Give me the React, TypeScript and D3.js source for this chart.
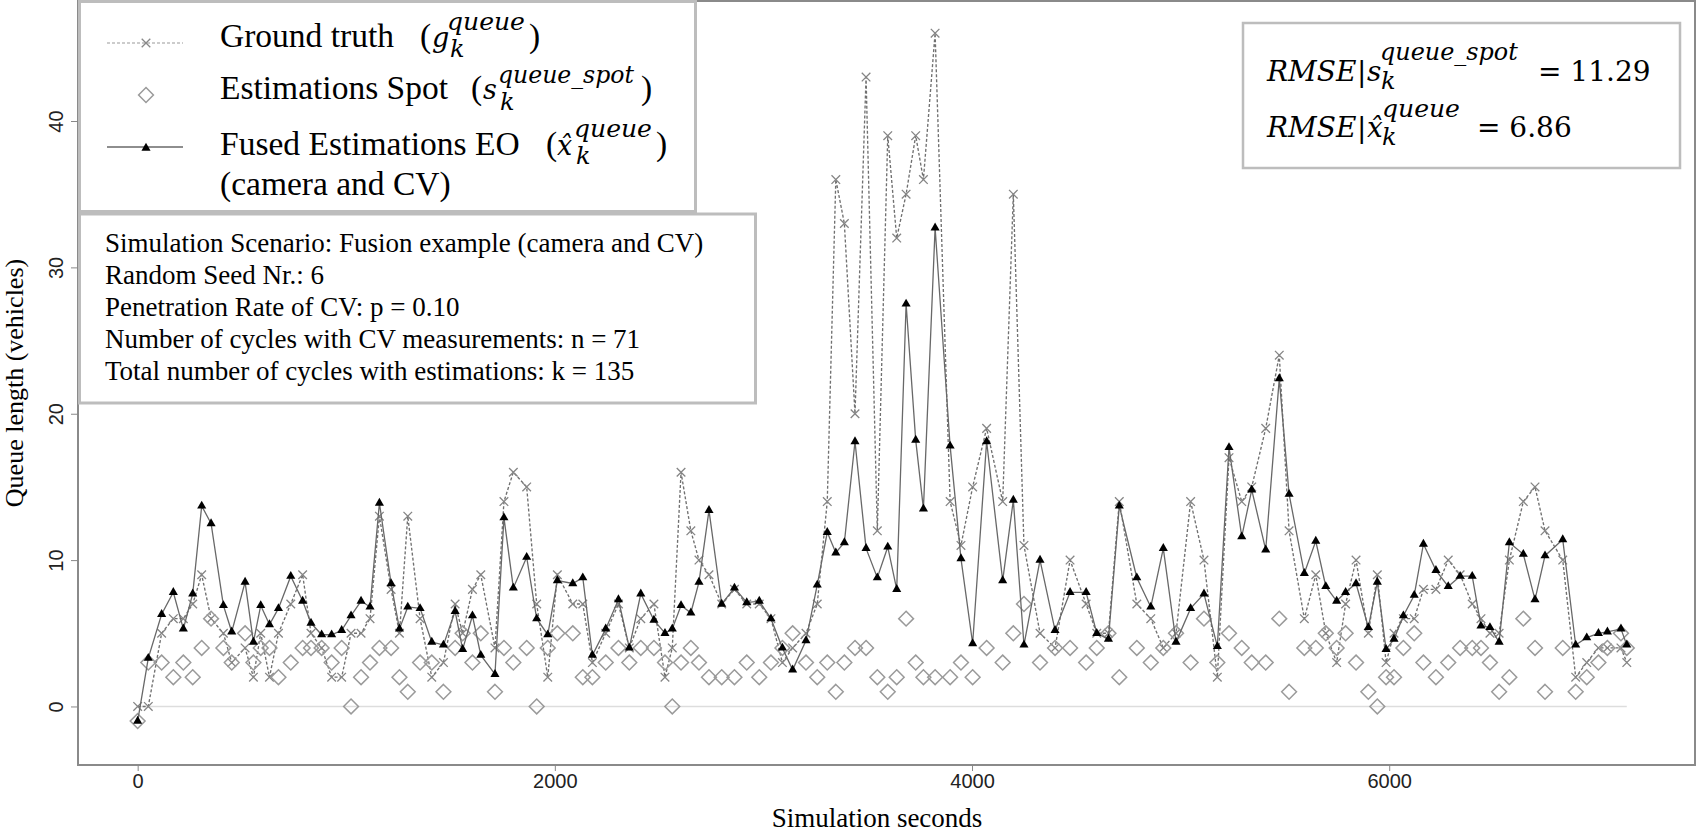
import React, { useEffect, useRef } from 'react';
import * as d3 from 'd3';

// end time of each signal cycle (simulation seconds), k = 135
const cycleTimes = [
  0, 51, 115, 171, 219, 264, 307, 352, 411, 451, 515, 555, 590, 632, 675, 734, 791, 831, 882,
  930, 978, 1023, 1071, 1114, 1159, 1215, 1255, 1295, 1354, 1410, 1466, 1522, 1558, 1605, 1645, 1713, 1756, 1801,
  1865, 1913, 1966, 2012, 2086, 2134, 2180, 2244, 2305, 2357, 2412, 2475, 2528, 2563, 2605, 2652, 2691,
  2739, 2800, 2861, 2920, 2980, 3036, 3091, 3140, 3204, 3258, 3306, 3347, 3388, 3439, 3492, 3546, 3596, 3639,
  3684, 3730, 3767, 3823, 3895, 3947, 4003, 4070, 4147, 4198, 4249, 4326,
  4398, 4470, 4547, 4598, 4654, 4706, 4790, 4857, 4917, 4978, 5048, 5112, 5176, 5232,
  5293, 5341, 5408, 5473, 5520, 5593, 5648, 5696, 5748, 5791, 5841, 5900, 5943, 5985, 6023, 6068, 6120,
  6164, 6224, 6283, 6340, 6398, 6440, 6483, 6527, 6576, 6643, 6699, 6747, 6832, 6894, 6947, 7003, 7046, 7111, 7139,
];

const groundTruth = [
  0, 0, 5, 6, 6, 7, 9, 6, 5, 3, 4, 2, 5, 2, 5, 7, 9, 5, 4,
  2, 2, 5, 5, 6, 13, 8, 5, 13, 6, 2, 3, 7, 5, 8, 9, 4, 14, 16,
  15, 7, 2, 9, 7, 7, 3, 5, 7, 4, 6, 7, 2, 4, 16, 12, 10,
  9, 7, 8, 7, 7, 6, 3, 4, 5, 7, 14, 36, 33, 20, 43, 12, 39, 32,
  35, 39, 36, 46, 14, 11, 15, 19, 14, 35, 11, 5,
  4, 10, 7, 5, 5, 14, 7, 6, 4, 5, 14, 10, 2, 17,
  14, 15, 19, 24, 12, 6, 9, 5, 3, 7, 10, 5, 9, 3, 5, 6, 6,
  8, 8, 10, 9, 7, 6, 5, 5, 10, 14, 15, 12, 10, 2, 3, 4, 4, 4, 3,
];

const spotEstimates = [
  -1, 3, 3, 2, 3, 2, 4, 6, 4, 3, 5, 3, 4, 4, 2, 3, 4, 4, 4,
  3, 4, 0, 2, 3, 4, 4, 2, 1, 3, 3, 1, 4, 5, 3, 5, 1, 4, 3,
  4, 0, 4, 5, 5, 2, 2, 3, 4, 3, 4, 4, 3, 0, 3, 4, 3,
  2, 2, 2, 3, 2, 3, 4, 5, 3, 2, 3, 1, 3, 4, 4, 2, 1, 2,
  6, 3, 2, 2, 2, 3, 2, 4, 3, 5, 7, 3,
  4, 4, 3, 4, 5, 2, 4, 3, 4, 5, 3, 6, 3, 5,
  4, 3, 3, 6, 1, 4, 4, 5, 4, 5, 3, 1, 0, 2, 2, 4, 5,
  3, 2, 3, 4, 4, 4, 3, 1, 2, 6, 4, 1, 4, 1, 2, 3, 4, 5, 4,
];

const fusedEstimates = [
  -1, 3.3, 6.3, 7.8, 5.3, 7.7, 13.7, 12.5, 6.9, 5.1, 8.5, 4.4, 6.9, 5.6, 6.7, 8.9, 7.2, 5.7, 4.9,
  4.9, 5.2, 6.2, 7.2, 6.8, 13.9, 8.4, 5.3, 6.8, 6.7, 4.4, 4.2, 6.5, 3.9, 6.2, 3.5, 2.2, 12.9, 8.1,
  10.2, 6.0, 4.9, 8.6, 8.4, 8.8, 3.5, 5.3, 7.3, 4.0, 7.7, 5.9, 5.0, 5.3, 6.9, 6.4, 8.5,
  13.4, 7.0, 8.1, 7.1, 7.2, 6.0, 4.0, 2.5, 4.5, 8.3, 11.9, 10.5, 11.2, 18.1, 10.8, 8.8, 10.9, 8.0,
  27.5, 18.2, 13.5, 32.7, 17.8, 10.1, 4.3, 18.1, 8.6, 14.1, 4.2, 10.0,
  5.2, 7.8, 7.8, 5.0, 4.6, 13.7, 8.8, 6.8, 10.8, 4.4, 6.7, 7.7, 4.1, 17.7,
  11.6, 14.8, 10.7, 22.4, 14.5, 9.1, 11.3, 8.2, 7.2, 7.8, 8.4, 5.4, 8.5, 3.9, 4.6, 6.2, 7.6,
  11.1, 9.3, 8.2, 8.9, 8.9, 5.5, 5.4, 4.4, 11.2, 10.4, 7.3, 10.3, 11.4, 4.2, 4.7, 5.0, 5.1, 5.3, 4.2,
];

const xTicks = [0, 2000, 4000, 6000];
const yTicks = [0, 10, 20, 30, 40];

const infoLines = [
  'Simulation Scenario: Fusion example (camera and CV)',
  'Random Seed Nr.: 6',
  'Penetration Rate of CV: p = 0.10',
  'Number of cycles with CV measurements: n = 71',
  'Total number of cycles with estimations: k = 135',
];

const SERIF = '"Liberation Serif", "Times New Roman", serif';
const MATH = '"DejaVu Serif", serif';
const SANS = '"Liberation Sans", Arial, sans-serif';

function App() {
  const svgRef = useRef(null);

  useEffect(() => {
    const width = 1699;
    const height = 836;
    const frame = { left: 78, top: 1, right: 1695, bottom: 765 };

    const svg = d3.select(svgRef.current)
      .attr('width', width)
      .attr('height', height);

    svg.selectAll('*').remove();
    svg.append('rect').attr('width', width).attr('height', height).attr('fill', '#fff');

    const xScale = d3.scaleLinear().domain([-286, 7466]).range([frame.left, frame.right]);
    const yScale = d3.scaleLinear().domain([-4, 48.2]).range([frame.bottom, frame.top]);

    const points = cycleTimes.map((t, i) => ({
      t, g: groundTruth[i], s: spotEstimates[i], f: fusedEstimates[i],
    }));

    // zero reference line
    svg.append('line')
      .attr('x1', xScale(cycleTimes[0]))
      .attr('x2', xScale(cycleTimes[cycleTimes.length - 1]))
      .attr('y1', yScale(0)).attr('y2', yScale(0))
      .attr('stroke', '#dddddd').attr('stroke-width', 1.5);

    const crossPath = d3.symbol(d3.symbolTimes, 50)();
    const diamondPath = d3.symbol(d3.symbolDiamond2, 140)();
    const trianglePath = d3.symbol(d3.symbolTriangle, 36)();

    // ground truth
    const lineG = d3.line().x(d => xScale(d.t)).y(d => yScale(d.g));
    svg.append('path').datum(points)
      .attr('fill', 'none').attr('stroke', '#707070').attr('stroke-width', 1.35)
      .attr('stroke-dasharray', '3 2').attr('d', lineG);
    svg.append('g').selectAll('path').data(points).join('path')
      .attr('transform', d => `translate(${xScale(d.t)},${yScale(d.g)})`)
      .attr('d', crossPath).attr('fill', 'none').attr('stroke', '#858585').attr('stroke-width', 1.3);

    // spot estimations
    svg.append('g').selectAll('path').data(points).join('path')
      .attr('transform', d => `translate(${xScale(d.t)},${yScale(d.s)})`)
      .attr('d', diamondPath).attr('fill', 'none').attr('stroke', '#9a9a9a').attr('stroke-width', 1.5);

    // fused estimations
    const lineF = d3.line().x(d => xScale(d.t)).y(d => yScale(d.f));
    svg.append('path').datum(points)
      .attr('fill', 'none').attr('stroke', '#686868').attr('stroke-width', 1.3).attr('d', lineF);
    svg.append('g').selectAll('path').data(points).join('path')
      .attr('transform', d => `translate(${xScale(d.t)},${yScale(d.f)})`)
      .attr('d', trianglePath).attr('fill', '#000');

    // frame
    svg.append('rect')
      .attr('x', frame.left).attr('y', frame.top)
      .attr('width', frame.right - frame.left).attr('height', frame.bottom - frame.top)
      .attr('fill', 'none').attr('stroke', '#8a8a8a').attr('stroke-width', 2);

    // x axis
    const xAxis = svg.append('g')
      .attr('transform', `translate(0,${frame.bottom})`)
      .call(d3.axisBottom(xScale).tickValues(xTicks).tickSize(6).tickSizeOuter(0).tickPadding(3).tickFormat(d3.format('d')));
    xAxis.select('.domain').remove();
    xAxis.selectAll('line').attr('stroke', '#888');
    xAxis.selectAll('text').attr('font-family', SANS).attr('font-size', 20).attr('fill', '#222');

    // y axis
    const yAxis = svg.append('g')
      .attr('transform', `translate(${frame.left},0)`)
      .call(d3.axisLeft(yScale).tickValues(yTicks).tickSize(7).tickSizeOuter(0));
    yAxis.select('.domain').remove();
    yAxis.selectAll('line').attr('stroke', '#888');
    yAxis.selectAll('text')
      .attr('transform', 'rotate(-90)')
      .attr('x', 0).attr('y', -15).attr('dy', 0)
      .attr('text-anchor', 'middle')
      .attr('font-family', SANS).attr('font-size', 20).attr('fill', '#222');

    // axis titles
    svg.append('text')
      .attr('transform', `translate(23,${(frame.top + frame.bottom) / 2}) rotate(-90)`)
      .attr('text-anchor', 'middle').attr('font-family', SERIF).attr('font-size', 26)
      .text('Queue length (vehicles)');
    svg.append('text')
      .attr('x', 877).attr('y', 827)
      .attr('text-anchor', 'middle').attr('font-family', SERIF).attr('font-size', 27)
      .text('Simulation seconds');

    // helper for text pieces; len stretches a piece horizontally to a given width
    const put = (g, txt, x, y, size, opts = {}) => {
      const t = g.append('text')
        .attr('x', x).attr('y', y)
        .attr('font-family', opts.family || SERIF)
        .attr('font-style', opts.italic ? 'italic' : 'normal')
        .attr('font-size', size)
        .attr('fill', '#000')
        .text(txt);
      if (opts.len) {
        const w = t.node().getComputedTextLength();
        if (w > 0) {
          t.attr('x', 0).attr('y', 0)
            .attr('transform', `translate(${x},${y}) scale(${opts.len / w},1)`);
        }
      }
      return t;
    };

    // legend
    const legend = svg.append('g');
    legend.append('rect')
      .attr('x', 79.5).attr('y', 1.5).attr('width', 616).attr('height', 210)
      .attr('fill', '#fff').attr('stroke', '#bdbdbd').attr('stroke-width', 3);

    legend.append('line').attr('x1', 107).attr('x2', 183).attr('y1', 43).attr('y2', 43)
      .attr('stroke', '#999').attr('stroke-width', 1.2).attr('stroke-dasharray', '3 2');
    legend.append('path').attr('transform', 'translate(146,43)').attr('d', crossPath)
      .attr('fill', 'none').attr('stroke', '#888').attr('stroke-width', 1.3);
    legend.append('path').attr('transform', 'translate(146,95)').attr('d', diamondPath)
      .attr('fill', 'none').attr('stroke', '#9a9a9a').attr('stroke-width', 1.5);
    legend.append('line').attr('x1', 107).attr('x2', 183).attr('y1', 147).attr('y2', 147)
      .attr('stroke', '#686868').attr('stroke-width', 1.3);
    legend.append('path').attr('transform', 'translate(146,148)').attr('d', trianglePath).attr('fill', '#000');

    const LS = 33.5;
    const it = { family: MATH, italic: true };
    put(legend, 'Ground truth', 220, 47, LS);
    put(legend, '(', 420, 47, LS);
    put(legend, 'g', 432, 47, 27, it);
    put(legend, 'queue', 447, 30, 24, { ...it, len: 78 });
    put(legend, 'k', 450, 57, 24, it);
    put(legend, ')', 529, 47, LS);

    put(legend, 'Estimations Spot', 220, 99, LS);
    put(legend, '(', 471, 99, LS);
    put(legend, 's', 483, 99, 27, it);
    put(legend, 'queue_spot', 498, 83, 24, { ...it, len: 136 });
    put(legend, 'k', 500, 110, 24, it);
    put(legend, ')', 641, 99, LS);

    put(legend, 'Fused Estimations EO', 220, 155, LS);
    put(legend, '(', 546, 155, LS);
    put(legend, 'x\u0302', 557, 155, 27, it);
    put(legend, 'queue', 574, 137, 24, { ...it, len: 78 });
    put(legend, 'k', 576, 164, 24, it);
    put(legend, ')', 656, 155, LS);

    put(legend, '(camera and CV)', 220, 195, LS);

    // scenario info box
    const info = svg.append('g');
    info.append('rect')
      .attr('x', 79.5).attr('y', 214).attr('width', 676).attr('height', 189)
      .attr('fill', '#fff').attr('stroke', '#bdbdbd').attr('stroke-width', 3);
    infoLines.forEach((line, i) => put(info, line, 105, 252 + i * 32, 27));

    // RMSE box
    const rmse = svg.append('g');
    rmse.append('rect')
      .attr('x', 1243).attr('y', 23).attr('width', 437).attr('height', 145)
      .attr('fill', '#fff').attr('stroke', '#bdbdbd').attr('stroke-width', 2.5);
    put(rmse, 'RMSE', 1267, 81, 28, it);
    put(rmse, '|', 1357, 81, 28, { family: MATH });
    put(rmse, 's', 1367, 81, 28, it);
    put(rmse, 'queue_spot', 1380, 60, 24, { ...it, len: 138 });
    put(rmse, 'k', 1381, 89, 24, it);
    put(rmse, '= 11.29', 1538, 81, 28, { family: MATH });

    put(rmse, 'RMSE', 1267, 137, 28, it);
    put(rmse, '|', 1357, 137, 28, { family: MATH });
    put(rmse, 'x\u0302', 1367, 137, 28, it);
    put(rmse, 'queue', 1382, 117, 24, { ...it, len: 78 });
    put(rmse, 'k', 1382, 145, 24, it);
    put(rmse, '= 6.86', 1477, 137, 28, { family: MATH });
  }, []);

  return (
    <div style={{ position: 'absolute', left: 0, top: 0 }}>
      <svg ref={svgRef}></svg>
    </div>
  );
}

export default App;
